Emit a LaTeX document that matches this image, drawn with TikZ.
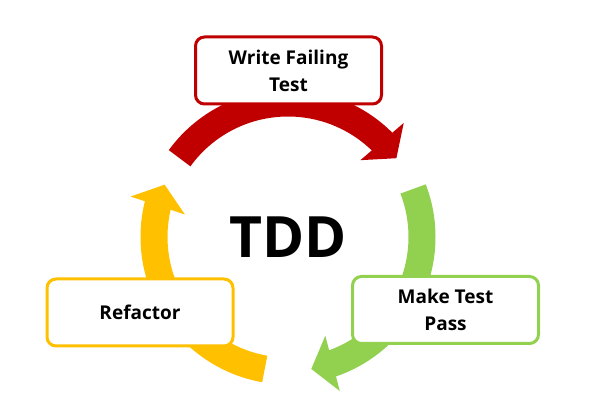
\documentclass[tikz,border=0pt]{standalone}
\usepackage{fontspec}
\setmainfont{Open Sans}
\usetikzlibrary{arrows.meta, bending, positioning}

\definecolor{tddRed}{HTML}{C00000}
\definecolor{tddGreen}{HTML}{92D050}
\definecolor{tddYellow}{HTML}{FFC000}

\begin{document}
\begin{tikzpicture}[
        x=1pt, y=1pt,
        cycleArc/.style={
            line width=27pt,
            -{Triangle[length=22pt, width=56pt]}
        },
        phaseBox/.style={
            fill=white,
            line width=3pt,
            rounded corners=9pt,
            minimum width=186pt,
            minimum height=67pt,
            align=center,
            font=\fontsize{19}{27}\selectfont\bfseries,
            inner sep=4pt
        },
        centreLabel/.style={
            font=\fontsize{57}{60}\selectfont\bfseries
        }
    ]

        \useasboundingbox (0,0) rectangle (600,407);

        % Centre of the cycle
        \coordinate (centre) at (288,170);

        % Cycle arcs
        \draw[cycleArc, draw=tddRed]
            ([shift={(144:134pt)}]centre) arc[start angle=144, end angle=36, radius=134pt];
        \draw[cycleArc, draw=tddGreen]
            ([shift={(21:134pt)}]centre) arc[start angle=21, end angle=-80, radius=134pt];
        \draw[cycleArc, draw=tddYellow]
            ([shift={(-100:134pt)}]centre) arc[start angle=-100, end angle=-203, radius=134pt];

        % Phase boxes
        \node[phaseBox, draw=tddRed] (writeTest) at (288.5,336.5) {Write Failing\\Test};
        \node[phaseBox, draw=tddGreen] (passTest) at (445.5,97) {Make Test\\Pass};
        \node[phaseBox, draw=tddYellow] (refactor) at (140,94.5) {Refactor};

        % Title
        \node[centreLabel] (tdd) at (centre) {TDD};

    \end{tikzpicture}
\end{document}
